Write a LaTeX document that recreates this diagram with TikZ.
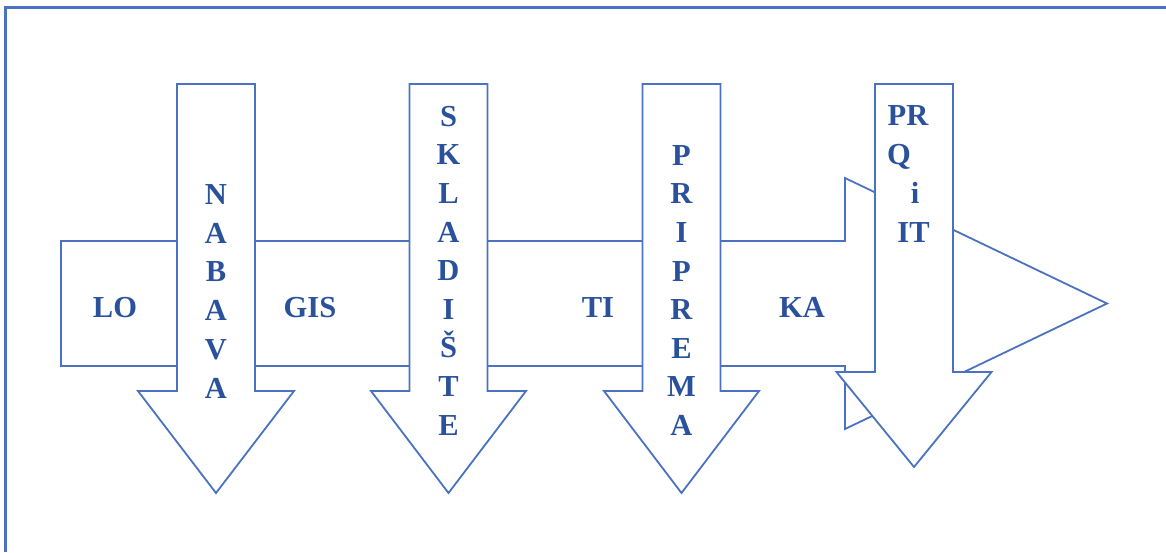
\documentclass[tikz,border=0pt]{standalone}
\usepackage{fontspec}
\setmainfont{Liberation Serif}
\definecolor{linec}{HTML}{4A72C0}
\definecolor{txtc}{HTML}{2A519C}
\newcommand\DownArr[4]{% #1 centre x, #2 shaft bottom y, #3 tip y, #4 head half-width
  \draw[shp] ({#1-39},84) -- ({#1+39},84) -- ({#1+39},#2) -- ({#1+#4},#2) -- (#1,#3)
    -- ({#1-#4},#2) -- ({#1-39},#2) -- cycle;}
\begin{document}
\begin{tikzpicture}[x=1pt,y=-1pt,
  shp/.style={draw=linec,fill=white,line width=1.8pt,line join=miter},
  lbl/.style={text=txtc,font=\fontsize{30.5}{36}\selectfont\bfseries,inner sep=0pt,anchor=base}]
\useasboundingbox (0,0) rectangle (1166,552);
\draw[linec,line width=2.2pt] (5.5,552) -- (5.5,7.5) -- (1166,7.5);
% horizontal arrow
\draw[shp] (61,241) -- (845,241) -- (845,178) -- (1107,303.5) -- (845,429) -- (845,366) -- (61,366) -- cycle;
% down arrows
\DownArr{216}{391}{493}{78}
\DownArr{448.5}{391}{493}{77.5}
\DownArr{681.5}{391}{493}{77.5}
\DownArr{914}{372}{467}{77.5}
% horizontal labels
\node[lbl] (lo) at (115,317.5) {LO};
\node[lbl] (gis) at (310,317.5) {GIS};
\node[lbl] (ti) at (598,317.5) {TI};
\node[lbl] (ka) at (802,317.5) {KA};
% vertical labels
\foreach \ch [count=\i] in {N,A,B,A,V,A}
  \node[lbl] (nab\i) at (216,{194+38.75*(\i-1)+10.3}) {\ch};
\foreach \ch [count=\i] in {S,K,L,A,D,I,Š,T,E}
  \node[lbl] (skl\i) at (448.5,{116+38.6*(\i-1)+10.3}) {\ch};
\foreach \ch [count=\i] in {P,R,I,P,R,E,M,A}
  \node[lbl] (pri\i) at (681.5,{155+38.6*(\i-1)+10.3}) {\ch};
\node[lbl] (prq1) at (908,125.5) {PR};
\node[lbl] (prq2) at (899,164.5) {Q};
\node[lbl] (prq3) at (915,203.5) {i};
\node[lbl] (prq4) at (913.5,242.5) {IT};
\end{tikzpicture}
\end{document}
